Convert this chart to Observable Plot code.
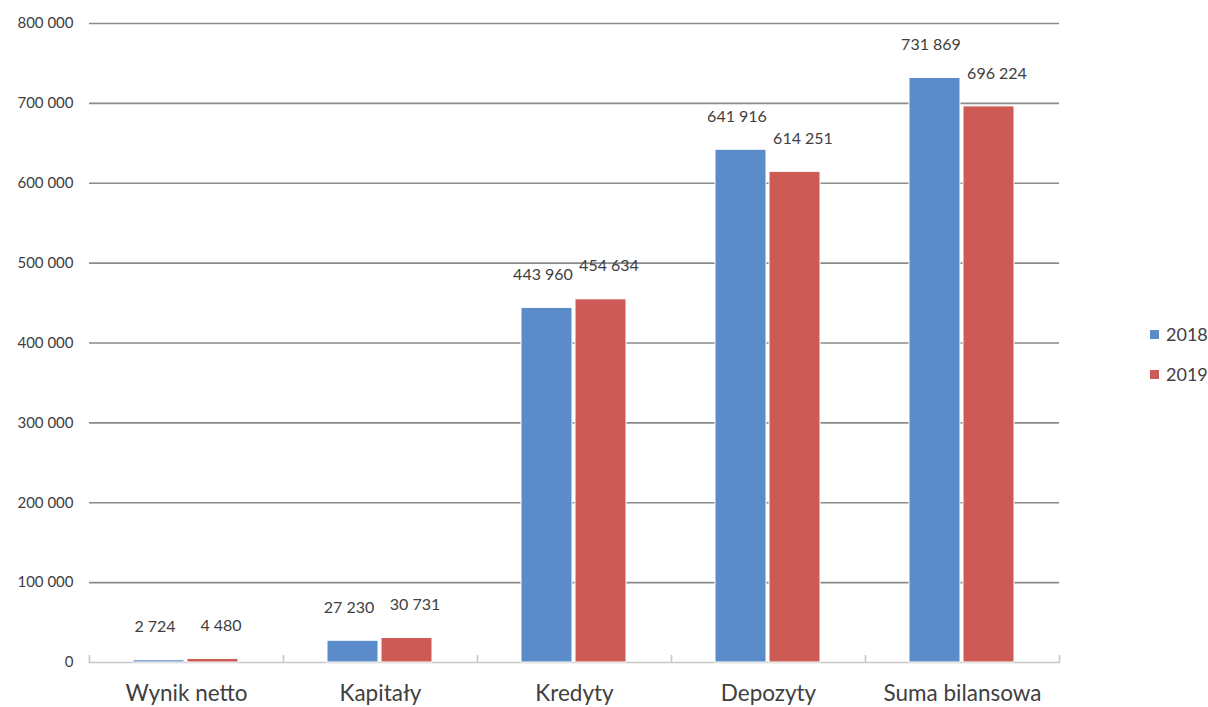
<!DOCTYPE html>
<html>
<head>
<meta charset="utf-8">
<script src="https://cdn.jsdelivr.net/npm/d3@7"></script>
<script src="https://cdn.jsdelivr.net/npm/@observablehq/plot@0.6"></script>
<style>
  body { margin: 0; background: #fff; font-family: Lato, "Open Sans", sans-serif; }
  #wrap { position: relative; width: 1208px; height: 707px; }
  #legend { position: absolute; left: 1150px; top: 314px; color: #404040; font-size: 18px; }
  #legend div { display: flex; align-items: center; height: 40px; }
  #legend span.sw { display: inline-block; width: 9px; height: 9px; margin-right: 7px; }
</style>
</head>
<body>
<div id="wrap"><div id="legend"></div></div>
<script>
const categories = ["Wynik netto", "Kapitały", "Kredyty", "Depozyty", "Suma bilansowa"];
const years = ["2018", "2019"];
const values2018 = [2724, 27230, 443960, 641916, 731869];
const values2019 = [4480, 30731, 454634, 614251, 696224];
const yTicks = [0, 100000, 200000, 300000, 400000, 500000, 600000, 700000, 800000];
const colors = ["#5B8BC9", "#CD5A55"];

const data = [];
categories.forEach((c, i) => {
  data.push({category: c, year: years[0], value: values2018[i]});
  data.push({category: c, year: years[1], value: values2019[i]});
});

const fmt = v => d3.format(",")(v).replace(/,/g, " ");

const tickShape = {draw(ctx, l) { ctx.moveTo(0, 0); ctx.lineTo(0, l); }};

const chart = Plot.plot({
  width: 1208,
  height: 707,
  marginLeft: 88,
  marginRight: 148,
  marginTop: 23,
  marginBottom: 45,
  style: {fontFamily: "Lato, 'Open Sans', sans-serif", color: "#404040", background: "#fff"},
  fx: {domain: categories, padding: 0, label: null},
  x: {domain: years, paddingInner: 0.055, paddingOuter: 0.795, axis: null},
  y: {domain: [0, 800000], axis: null},
  color: {domain: years, range: colors},
  marks: [
    Plot.ruleY(yTicks.filter(d => d > 0), {stroke: "#8a8a8a", strokeWidth: 1.6}),
    Plot.ruleY([0], {stroke: "#c8c8c8", strokeWidth: 1.6}),
    Plot.barY(data, {fx: "category", x: "year", y: "value", fill: "year", stroke: "#fff", strokeWidth: 1}),
    Plot.text(data.filter(d => d.year === years[0]), {fx: "category", x: "year", y: "value", text: d => fmt(d.value), dy: -33, dx: -4, fontSize: 16, fill: "#404040"}),
    Plot.text(data.filter(d => d.year === years[1]), {fx: "category", x: "year", y: "value", text: d => fmt(d.value), dy: -33, dx: 8, fontSize: 16, fill: "#404040"}),
    Plot.axisY(yTicks, {tickSize: 0, tickPadding: 16, fontSize: 15, tickFormat: fmt, fill: "#404040", label: null}),
    Plot.axisFx({anchor: "bottom", tickSize: 0, tickPadding: 23, fontSize: 22.5, fill: "#404040", label: null}),
    Plot.vector(categories, {fx: d => d, frameAnchor: "bottom-left", length: 7, rotate: 180, anchor: "start", shape: tickShape, stroke: "#c8c8c8", strokeWidth: 1.6}),
    Plot.vector([categories[categories.length - 1]], {fx: d => d, frameAnchor: "bottom-right", length: 7, rotate: 180, anchor: "start", shape: tickShape, stroke: "#c8c8c8", strokeWidth: 1.6})
  ]
});

document.getElementById("wrap").prepend(chart);
const legend = document.getElementById("legend");
years.forEach((y, i) => {
  const row = document.createElement("div");
  row.innerHTML = `<span class="sw" style="background:${colors[i]}"></span>${y}`;
  legend.appendChild(row);
});
</script>
</body>
</html>
